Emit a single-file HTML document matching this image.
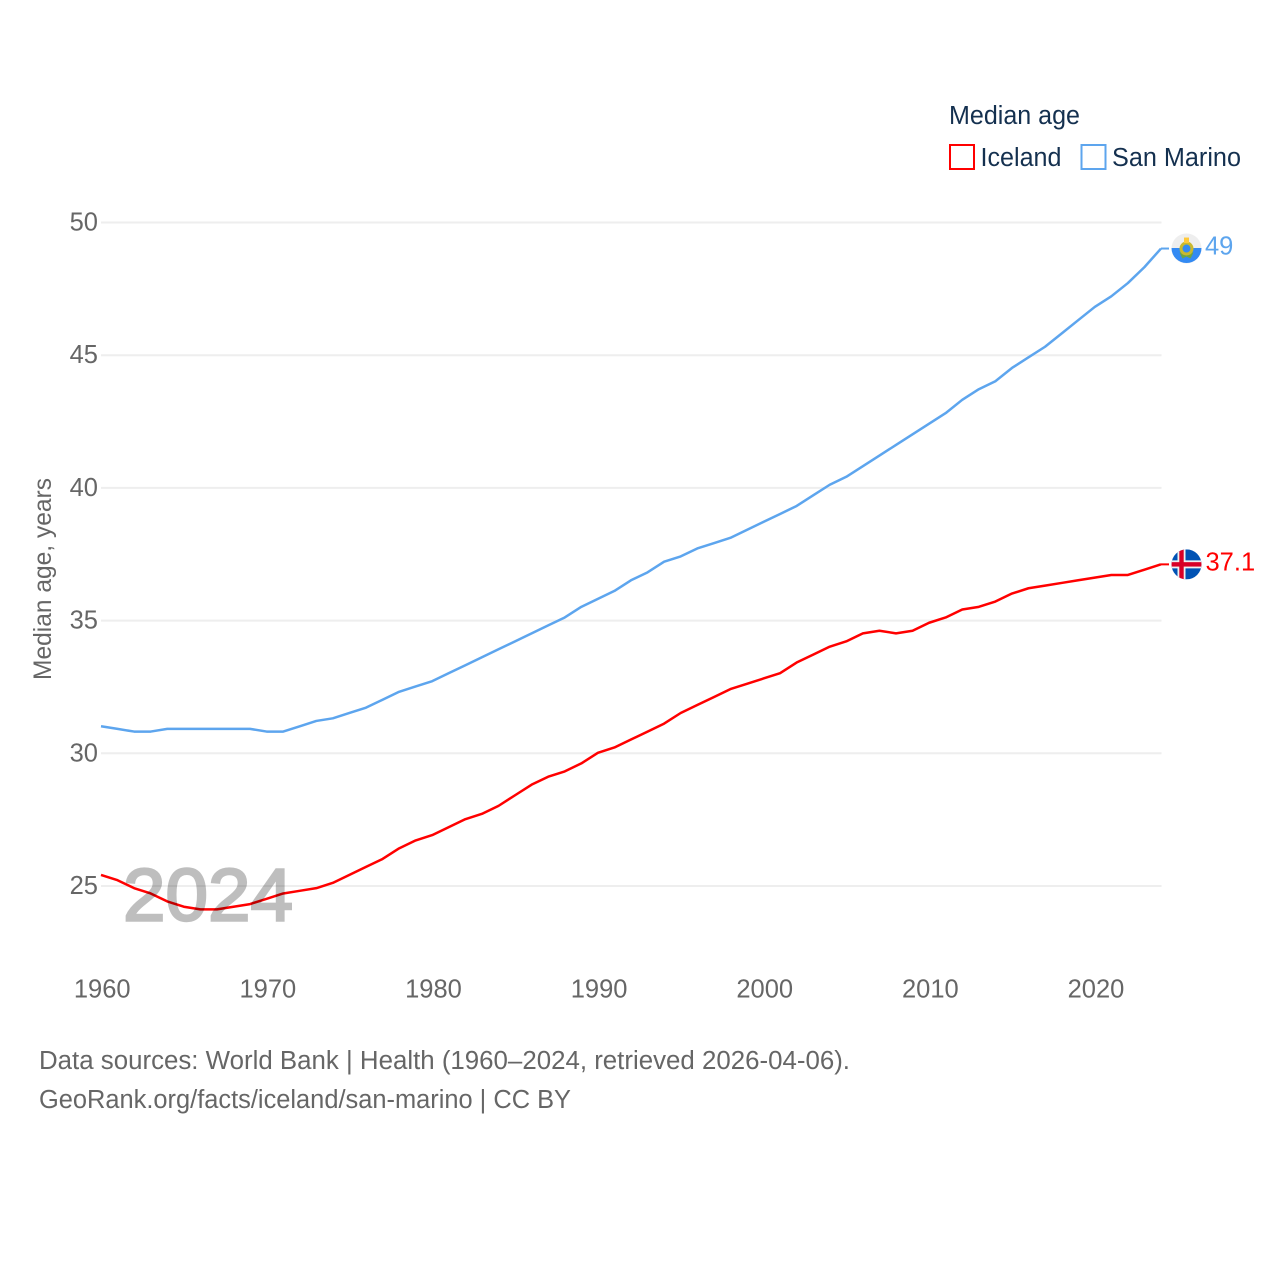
<!DOCTYPE html>
<html lang="en">
<head>
<meta charset="utf-8">
<title>Median age: Iceland and San Marino</title>
<style>
html,body{margin:0;padding:0;background:#fff;}
svg{display:block;}
text{font-family:"Liberation Sans","DejaVu Sans",sans-serif;}
</style>
</head>
<body>
<svg id="chart" xmlns="http://www.w3.org/2000/svg" width="1280" height="1280" viewBox="0 0 1280 1280">
  <rect width="1280" height="1280" fill="#fff"/>
  <g id="grid"></g>
  <g id="yticks"></g>
  <g id="xticks"></g>
  <text transform="translate(51,680) rotate(-90)" font-size="25" fill="#666" textLength="202" lengthAdjust="spacingAndGlyphs">Median age, years</text>
  <g id="series"></g>
  <text id="year" x="123" y="920.500" font-size="74" fill="#000" stroke="#000" stroke-width="2.400" opacity="0.25" textLength="170" lengthAdjust="spacingAndGlyphs">2024</text>
  <g id="endpoints"></g>
  <g>
    <text x="949" y="124" font-size="25.5" fill="#14304f" textLength="131" lengthAdjust="spacingAndGlyphs">Median age</text>
    <g>
      <rect x="950" y="145" width="24" height="24" fill="#fff" stroke="#f00" stroke-width="2"/>
      <text x="980.500" y="166" font-size="25.5" fill="#14304f" textLength="81" lengthAdjust="spacingAndGlyphs">Iceland</text>
    </g>
    <g>
      <rect x="1081.500" y="145" width="24" height="24" fill="#fff" stroke="#5da5ee" stroke-width="2"/>
      <text x="1112" y="166" font-size="25.5" fill="#14304f" textLength="129" lengthAdjust="spacingAndGlyphs">San Marino</text>
    </g>
  </g>
  <text x="39" y="1069" font-size="25.5" fill="#666" textLength="811" lengthAdjust="spacingAndGlyphs">Data sources: World Bank | Health (1960–2024, retrieved 2026-04-06).</text>
  <text x="39" y="1108" font-size="25.5" fill="#666" textLength="532" lengthAdjust="spacingAndGlyphs">GeoRank.org/facts/iceland/san-marino | CC BY</text>
</svg>
<script>
const years = [1960,1961,1962,1963,1964,1965,1966,1967,1968,1969,1970,1971,1972,1973,1974,1975,1976,1977,1978,1979,1980,1981,1982,1983,1984,1985,1986,1987,1988,1989,1990,1991,1992,1993,1994,1995,1996,1997,1998,1999,2000,2001,2002,2003,2004,2005,2006,2007,2008,2009,2010,2011,2012,2013,2014,2015,2016,2017,2018,2019,2020,2021,2022,2023,2024];
const icelandValues = [25.4,25.2,24.9,24.7,24.4,24.2,24.1,24.1,24.2,24.3,24.5,24.7,24.8,24.9,25.1,25.4,25.7,26.0,26.4,26.7,26.9,27.2,27.5,27.7,28.0,28.4,28.8,29.1,29.3,29.6,30.0,30.2,30.5,30.8,31.1,31.5,31.8,32.1,32.4,32.6,32.8,33.0,33.4,33.7,34.0,34.2,34.5,34.6,34.5,34.6,34.9,35.1,35.4,35.5,35.7,36.0,36.2,36.3,36.4,36.5,36.6,36.7,36.7,36.9,37.1];
const sanMarinoValues = [31.0,30.9,30.8,30.8,30.9,30.9,30.9,30.9,30.9,30.9,30.8,30.8,31.0,31.2,31.3,31.5,31.7,32.0,32.3,32.5,32.7,33.0,33.3,33.6,33.9,34.2,34.5,34.8,35.1,35.5,35.8,36.1,36.5,36.8,37.2,37.4,37.7,37.9,38.1,38.4,38.7,39.0,39.3,39.7,40.1,40.4,40.8,41.2,41.6,42.0,42.4,42.8,43.3,43.7,44.0,44.5,44.9,45.3,45.8,46.3,46.8,47.2,47.7,48.3,49.0];
const yTickValues = [25,30,35,40,45,50];
const xTickValues = [1960,1970,1980,1990,2000,2010,2020];

const NS = 'http://www.w3.org/2000/svg';
function xScale(year){ return 101 + (year - 1960) * (1060 / 64); }
function yScale(v){ return 886 - (v - 25) * (663.5 / 25); }
function make(tag, attrs, parent){
  const el = document.createElementNS(NS, tag);
  for (const k in attrs) el.setAttribute(k, attrs[k]);
  parent.appendChild(el);
  return el;
}
const grid = document.getElementById('grid');
const yticks = document.getElementById('yticks');
const xticks = document.getElementById('xticks');
const seriesG = document.getElementById('series');
const endG = document.getElementById('endpoints');

yTickValues.forEach(function(v){
  const line = make('line', {x1:101, x2:1161.5, y1:yScale(v), y2:yScale(v), stroke:'#eeeeee', 'stroke-width':2}, grid);
  
  
  const t = make('text', {x:98, y:yScale(v)+8, 'text-anchor':'end', 'font-size':25.5, fill:'#666'}, yticks);
  
  
  t.textContent = String(v);
});
xTickValues.forEach(function(y){
  const t = make('text', {x:xScale(y)+1.2, y:997.500, 'text-anchor':'middle', 'font-size':25.5, fill:'#666'}, xticks);
  
  
  t.textContent = String(y);
});
function linePath(vals){
  return vals.map(function(v,i){ return (i ? 'L' : 'M') + xScale(years[i]).toFixed(2) + ' ' + (yScale(v) - 0.5).toFixed(2); }).join(' ');
}
const lineSM = make('path', {d:linePath(sanMarinoValues), fill:'none', stroke:'#5da5ee', 'stroke-width':2.5, 'stroke-linejoin':'round'}, seriesG);


const lineIS = make('path', {d:linePath(icelandValues), fill:'none', stroke:'#ff0000', 'stroke-width':2.5, 'stroke-linejoin':'round'}, seriesG);



function endpoint(vals, color, key, labelX){
  const v = vals[vals.length - 1];
  const yy = yScale(v) - 0.5;
  const x0 = xScale(years[years.length - 1]);
  const conn = make('line', {x1:x0, x2:1169, y1:yy, y2:yy, stroke:color, 'stroke-width':2}, endG);
  
  
  const label = make('text', {x:labelX, y:yy+6, 'font-size':25.5, fill:color}, endG);
  
  
  label.textContent = String(v);
  return yy;
}
const ySM = endpoint(sanMarinoValues, '#5da5ee', 'san-marino', 1205);
const yIS = endpoint(icelandValues, '#ff0000', 'iceland', 1205.500);

// San Marino flag
const cx = 1186.500;
const fSM = make('g', {}, endG);


make('circle', {cx:cx, cy:ySM, r:15, fill:'#eeeeee'}, fSM);
make('path', {d:'M'+(cx-15)+' '+(ySM-0.500)+' A15 15 0 0 0 '+(cx+15)+' '+(ySM-0.500)+' Z', fill:'#338af3'}, fSM);
make('path', {d:'M'+(cx-7)+' '+(ySM+4)+' L'+(cx-4)+' '+(ySM+10)+' L'+cx+' '+(ySM+8)+' L'+(cx+4)+' '+(ySM+10)+' L'+(cx+7)+' '+(ySM+4)+' Z', fill:'#6da544'}, fSM);
make('circle', {cx:cx, cy:ySM, r:5.500, fill:'#338af3', stroke:'#c9b92e', 'stroke-width':3}, fSM);
make('rect', {x:cx-2.500, y:ySM-11, width:5, height:5.500, fill:'#ffc93a'}, fSM);

// Iceland flag
const fIS = make('g', {}, endG);


const clip = make('clipPath', {id:'is-clip'}, fIS);
make('circle', {cx:cx, cy:yIS, r:15}, clip);
const ig = make('g', {'clip-path':'url(#is-clip)'}, fIS);
make('rect', {x:cx-15, y:yIS-15, width:30, height:30, fill:'#0052b4'}, ig);
make('rect', {x:cx-15, y:yIS-4, width:30, height:8, fill:'#f0f0f0'}, ig);
make('rect', {x:cx-9, y:yIS-15, width:8, height:30, fill:'#f0f0f0'}, ig);
make('rect', {x:cx-15, y:yIS-2.200, width:30, height:4.400, fill:'#d80027'}, ig);
make('rect', {x:cx-7.200, y:yIS-15, width:4.400, height:30, fill:'#d80027'}, ig);
</script>
</body>
</html>
